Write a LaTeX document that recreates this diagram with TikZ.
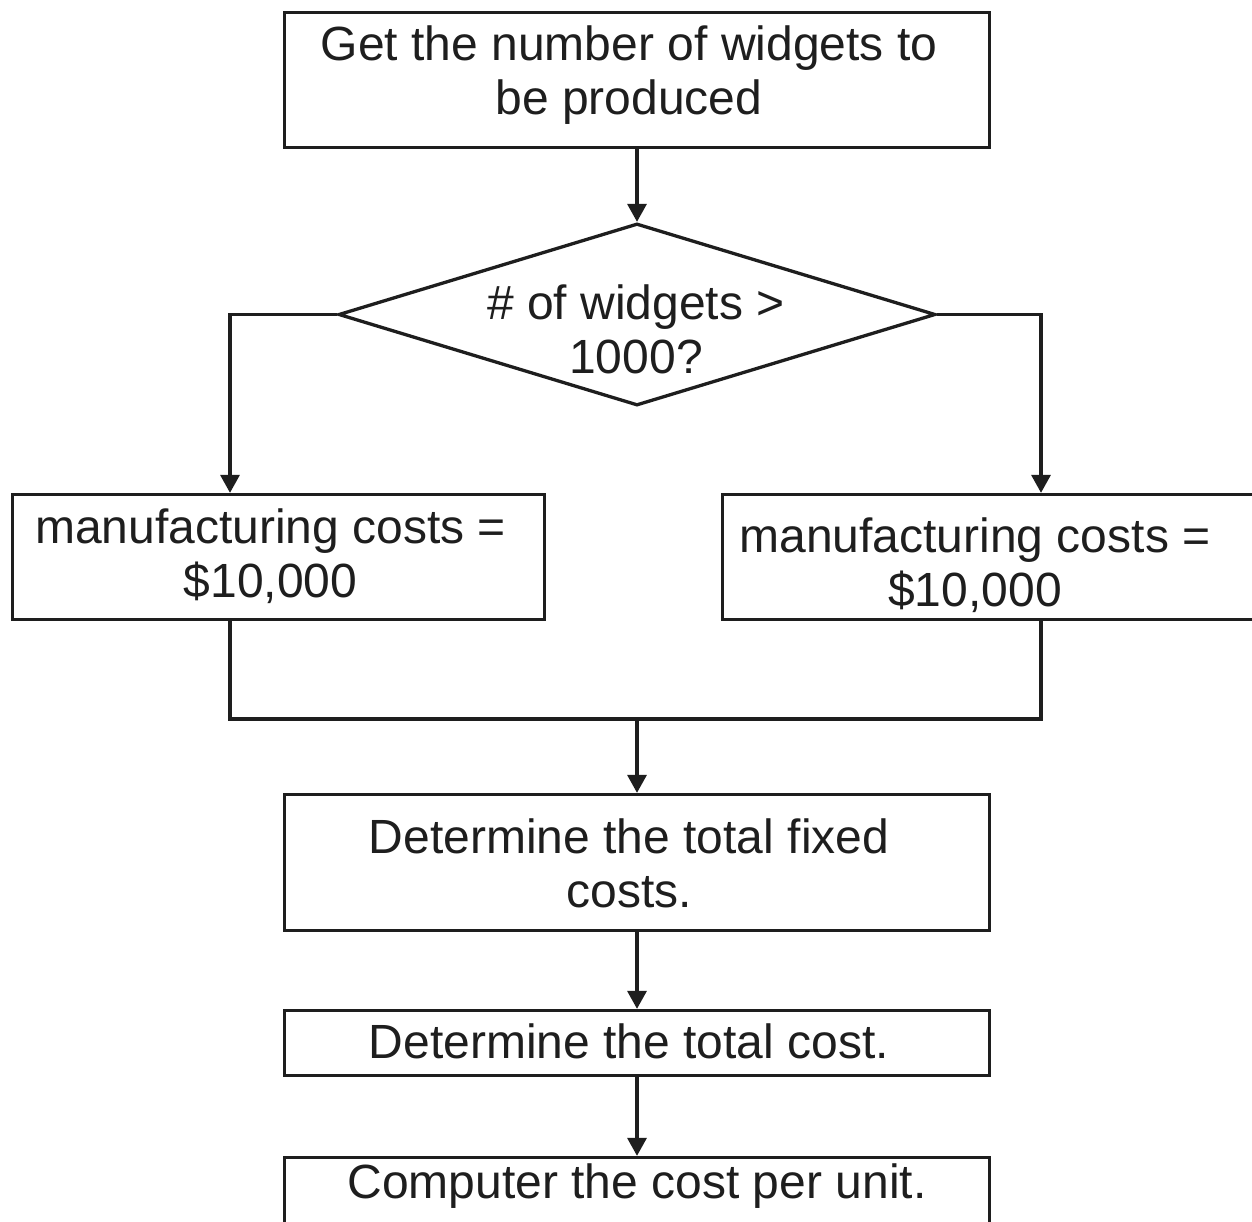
\documentclass[tikz,border=0pt]{standalone}
\usepackage{fontspec}
\setmainfont{Liberation Sans}
\usetikzlibrary{shapes.geometric,arrows.meta}
\definecolor{ink}{HTML}{1E1E1E}
\newcommand{\tophs}{\rule{0pt}{36pt}}
\newcommand{\botds}[1]{\rule[-#1]{0pt}{#1}}
\newcommand{\tsp}{\hspace*{16pt}}
\begin{document}
\begin{tikzpicture}[x=1pt,y=-1pt,
  every node/.style={font=\fontsize{48pt}{54pt}\selectfont, text=ink},
  box/.style={draw=ink, line width=3.3pt, rectangle, inner sep=0pt, align=center},
  arr/.style={draw=ink, line width=3.3pt, -{Triangle[length=18pt,width=19pt]}},
  conn/.style={draw=ink, line width=3.3pt},
]
\useasboundingbox (0,0) rectangle (1252,1222);
\fill[white] (0,0) rectangle (1252,1222);

\node[box, minimum width=705pt, minimum height=135pt] (top) at (637,80)
  {\tophs Get the number of widgets to\tsp\\be produced\tsp\botds{21pt}};
\node[draw=ink, line width=3.3pt, diamond, minimum width=597pt, minimum height=182pt, inner sep=0pt] (dia) at (637,314.5) {};
\node[align=center, inner sep=0pt] (diatext) at (636,333.5)
  {\tophs\# of widgets >\\1000?\botds{11pt}};

\node[box, minimum width=532pt, minimum height=125pt] (lbox) at (278.5,557)
  {\tophs manufacturing costs =\tsp\\\$10,000\tsp\botds{10pt}};
\node[box, minimum width=539.5pt, minimum height=125pt] (rbox) at (992.25,557) {};
\node[align=center, inner sep=0pt] (rtext) at (975,567)
  {\tophs manufacturing costs =\\\$10,000\botds{11pt}};

\node[box, minimum width=705pt, minimum height=136pt] (fix) at (637,862.5)
  {\tophs Determine the total fixed\tsp\\costs.\tsp\botds{1pt}};
\node[box, minimum width=705pt, minimum height=65pt] (cost) at (637,1043)
  {\tophs Determine the total cost.\tsp\botds{6pt}};
\node[box, minimum width=705pt, minimum height=104.5pt] (unit) at (637,1209.75)
  {\tophs Computer the cost per unit.\botds{59.5pt}};

\coordinate (la) at (230,314.5);
\coordinate (ra) at (1041,314.5);
\coordinate (lm) at (230,719);
\coordinate (rm) at (1041,719);
\coordinate (mm) at (637,719);

\draw[arr] (top.south) -- (dia.north);
\draw[arr] (dia.west) -- (dia.west -| la) -- (la |- lbox.north);
\draw[arr] (dia.east) -- (dia.east -| ra) -- (ra |- rbox.north);
\draw[conn] (la |- lbox.south) -- (lm) -- (rm) -- (ra |- rbox.south);
\draw[arr] (mm) -- (fix.north);
\draw[arr] (fix.south) -- (cost.north);
\draw[arr] (cost.south) -- (unit.north);
\end{tikzpicture}
\end{document}
